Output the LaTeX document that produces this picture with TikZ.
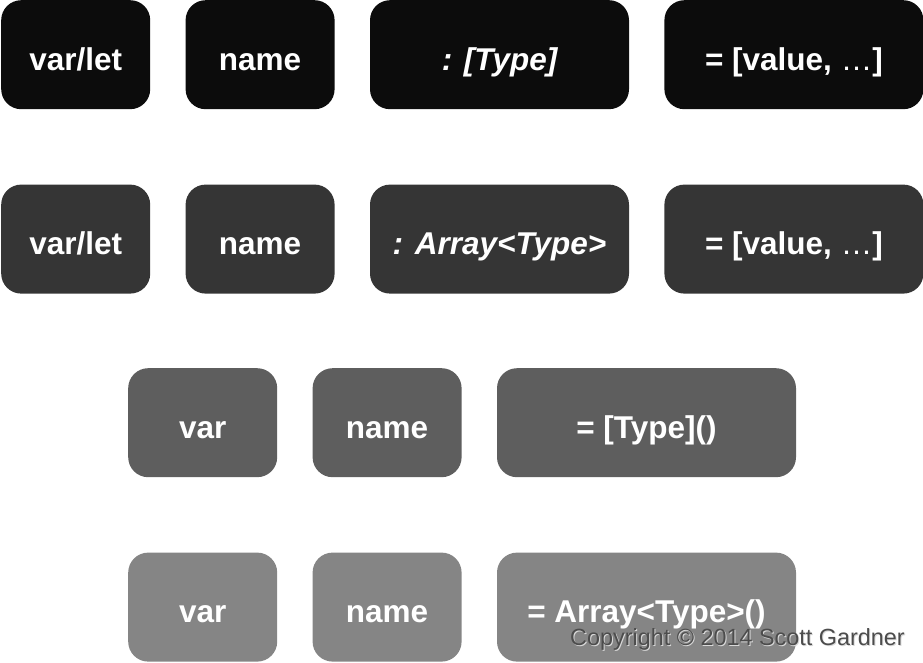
\documentclass[tikz,border=0pt]{standalone}
\usepackage{fontspec}
\setmainfont{Liberation Sans}
\usetikzlibrary{positioning}

\definecolor{rowA}{HTML}{0C0C0C}
\definecolor{rowB}{HTML}{353535}
\definecolor{rowC}{HTML}{5E5E5E}
\definecolor{rowD}{HTML}{858585}

\begin{document}
\begin{tikzpicture}[
  x=1pt, y=-1pt,
  node distance=35pt,
  every node/.style={rounded corners=20pt, inner sep=0pt, text=white,
    font=\fontsize{31.5}{37}\selectfont\bfseries, minimum height=109pt,
    text height=31pt, text depth=0pt},
  smallbox/.style={minimum width=149pt},
  widebox/.style={minimum width=259pt},
  longbox/.style={minimum width=299pt}
]
\useasboundingbox (0,0) rectangle (923,663);
% Row one
\node[smallbox, fill=rowA, anchor=north west] (a1) at (1,0) {var/let};
\node[smallbox, fill=rowA, right=of a1] (a2) {name};
\node[widebox, fill=rowA, right=of a2] (a3) {\itshape : [Type]};
\node[widebox, fill=rowA, right=of a3] (a4) {= [value, {\mdseries …}]};
% Row two
\node[smallbox, fill=rowB, below=75pt of a1] (b1) {var/let};
\node[smallbox, fill=rowB, right=of b1] (b2) {name};
\node[widebox, fill=rowB, right=of b2] (b3) {\itshape : Array<Type>};
\node[widebox, fill=rowB, right=of b3] (b4) {= [value, {\mdseries …}]};
% Row three
\node[smallbox, fill=rowC, anchor=north west] (c1) at (128,368) {var};
\node[smallbox, fill=rowC, right=of c1] (c2) {name};
\node[longbox, fill=rowC, right=of c2] (c3) {= [Type]()};
% Row four
\node[smallbox, fill=rowD, below=75pt of c1] (d1) {var};
\node[smallbox, fill=rowD, right=of d1] (d2) {name};
\node[longbox, fill=rowD, right=of d2] (d3) {= Array<Type>()};
% Credit
\node[anchor=base east, minimum height=0pt, rounded corners=0pt, text=white!85!black,
  text height=, text depth=, font=\fontsize{23.4}{28}\selectfont] (halo) at (906,646) {Copyright © 2014 Scott Gardner};
\node[anchor=base east, minimum height=0pt, rounded corners=0pt, text=black!70,
  text height=, text depth=, font=\fontsize{23.4}{28}\selectfont] (credit) at (905,645) {Copyright © 2014 Scott Gardner};
\end{tikzpicture}
\end{document}
